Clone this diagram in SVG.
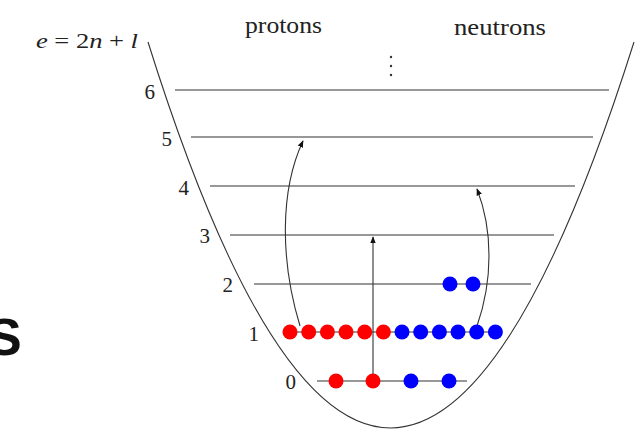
<svg xmlns="http://www.w3.org/2000/svg" width="643" height="442" viewBox="0 0 643 442">
<defs>
<style>
.t{font-family:"Liberation Serif","Times New Roman",serif;fill:#222}
.lv{stroke:#333;stroke-width:1.1;fill:none}
.c{stroke:#333;stroke-width:1.1;fill:none}
.p{fill:#f00}
.n{fill:#00f}
</style>
<marker id="ah" viewBox="0 0 10 10" refX="9" refY="5" markerWidth="7" markerHeight="7" orient="auto" markerUnits="userSpaceOnUse">
<path d="M0,1 L10,5 L0,9 Z" fill="#111"/>
</marker>
</defs>
<rect width="643" height="442" fill="#fff"/>
<text x="-13" y="355" font-family="Liberation Sans,Arial,sans-serif" font-weight="bold" font-size="52" fill="#111">S</text>
<g id="well">
<path class="c" d="M148,42 Q390,814 634,42"/>
</g>
<g id="titles">
<text class="t" x="245" y="33" font-size="23" textLength="77" lengthAdjust="spacingAndGlyphs">protons</text>
<text class="t" x="454" y="35" font-size="23" textLength="92" lengthAdjust="spacingAndGlyphs">neutrons</text>
<text class="t" x="36" y="48" font-size="22" textLength="102" lengthAdjust="spacingAndGlyphs"><tspan font-style="italic">e</tspan> = 2<tspan font-style="italic">n</tspan> + <tspan font-style="italic">l</tspan></text>
<circle cx="391" cy="57" r="1.2" fill="#333"/>
<circle cx="391" cy="66" r="1.2" fill="#333"/>
<circle cx="391" cy="75" r="1.2" fill="#333"/>
</g>
<g id="levels">
<line class="lv" x1="175" y1="90" x2="609" y2="90"/>
<line class="lv" x1="191" y1="137" x2="593" y2="137"/>
<line class="lv" x1="210" y1="186" x2="575" y2="186"/>
<line class="lv" x1="230" y1="235" x2="554" y2="235"/>
<line class="lv" x1="254" y1="284" x2="531" y2="284"/>
<line class="lv" x1="283" y1="332" x2="502" y2="332"/>
<line class="lv" x1="317" y1="381" x2="467" y2="381"/>
<g class="t" font-size="21" text-anchor="end">
<text x="155" y="99">6</text>
<text x="172" y="146">5</text>
<text x="189" y="195">4</text>
<text x="210" y="243">3</text>
<text x="233" y="292">2</text>
<text x="259" y="341">1</text>
<text x="296" y="389">0</text>
</g>
</g>
<g id="connectors">
<path class="c" d="M300,326 C280,260 280,190 303,141" marker-end="url(#ah)"/>
<line class="c" x1="373" y1="381" x2="373" y2="237" marker-end="url(#ah)"/>
<path class="c" d="M477,326 C493,280 493,230 477,189" marker-end="url(#ah)"/>
</g>
<g id="protons">
<circle class="p" cx="290" cy="332" r="7.5"/>
<circle class="p" cx="308.7" cy="332" r="7.5"/>
<circle class="p" cx="327.4" cy="332" r="7.5"/>
<circle class="p" cx="346" cy="332" r="7.5"/>
<circle class="p" cx="364.7" cy="332" r="7.5"/>
<circle class="p" cx="383.4" cy="332" r="7.5"/>
<circle class="p" cx="336" cy="381" r="7.5"/>
<circle class="p" cx="373" cy="381" r="7.5"/>
</g>
<g id="neutrons">
<circle class="n" cx="402" cy="332" r="7.5"/>
<circle class="n" cx="420.7" cy="332" r="7.5"/>
<circle class="n" cx="439.4" cy="332" r="7.5"/>
<circle class="n" cx="458" cy="332" r="7.5"/>
<circle class="n" cx="476.7" cy="332" r="7.5"/>
<circle class="n" cx="495.4" cy="332" r="7.5"/>
<circle class="n" cx="411" cy="381" r="7.5"/>
<circle class="n" cx="449" cy="381" r="7.5"/>
<circle class="n" cx="450" cy="284" r="7.5"/>
<circle class="n" cx="473" cy="284" r="7.5"/>
</g>
</svg>
